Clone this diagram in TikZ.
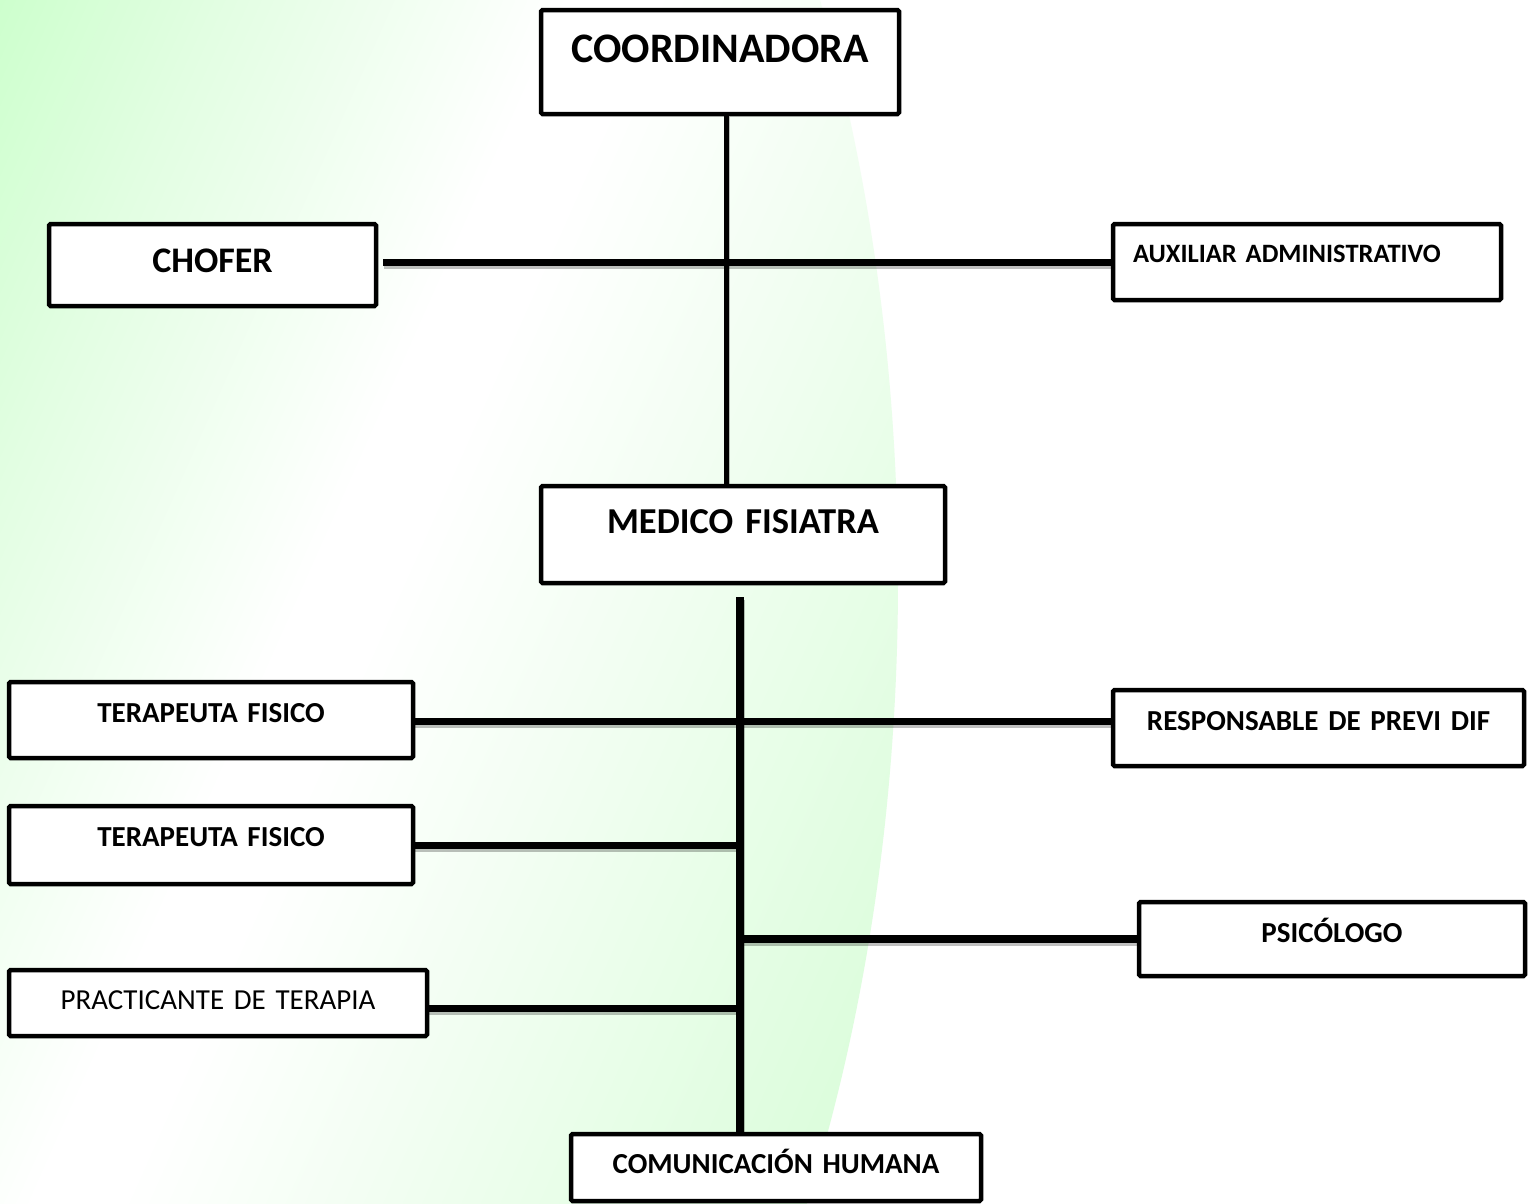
\documentclass[tikz,border=0pt]{standalone}
\usepackage{fontspec}
\setmainfont{Carlito}
\usetikzlibrary{backgrounds}
\definecolor{gA}{RGB}{205,255,205}
\definecolor{gM}{RGB}{226,254,226}
\definecolor{gB}{RGB}{220,253,220}
\pgfdeclarehorizontalshading{bgshade}{100bp}{color(0bp)=(gA); color(25bp)=(gA); color(32.7bp)=(gM); color(45bp)=(white); color(48bp)=(white); color(72bp)=(gB); color(100bp)=(gB)}
\begin{document}
\begin{tikzpicture}[x=1pt,y=-1pt,
  box/.style={draw=black, line width=4.5pt, fill=white, rounded corners=1.5pt, inner sep=0pt, outer sep=0pt,
    anchor=north west, align=center, font=\bfseries\fontsize{29}{29}\selectfont},
  conn/.style={line width=#1, preaction={draw=black, opacity=.25, line width=#1, transform canvas={xshift=1pt,yshift=-3pt}}}]
\useasboundingbox (0,0) rectangle (1534,1203);
\begin{pgfonlayer}{background}
  \fill[white] (0,0) rectangle (1534,1203);
  \begin{scope}
    \clip (154,580) ellipse [x radius=744pt, y radius=1300pt];
    \begin{scope}[transform canvas={rotate=-24}]
      \shade[shading=bgshade] (0,-1500) rectangle (1300,1500);
    \end{scope}
  \end{scope}
\end{pgfonlayer}

\node[box, text width=358pt, text height=52pt, text depth=52pt, font=\bfseries\fontsize{42}{42}\selectfont] (coord) at (541,10) {COORDINADORA};
\node[box, text width=327pt, text height=48pt, text depth=34pt, font=\bfseries\fontsize{36}{36}\selectfont] (chofer) at (49,224) {CHOFER};
\node[box, text width=388pt, text height=38pt, text depth=38pt, align=left, font=\bfseries\fontsize{26.5}{26.5}\selectfont] (aux) at (1113,224) {\hspace*{20pt}AUXILIAR ADMINISTRATIVO};
\node[box, text width=404pt, text height=47pt, text depth=50pt, font=\bfseries\fontsize{36.5}{36.5}\selectfont] (medico) at (541,486) {MEDICO FISIATRA};
\node[box, text width=404pt, text height=40pt, text depth=36pt] (ter1) at (9,682) {TERAPEUTA FISICO};
\node[box, text width=404pt, text height=40pt, text depth=38pt] (ter2) at (9,806) {TERAPEUTA FISICO};
\node[box, text width=418pt, text height=39pt, text depth=27pt, font=\fontsize{29}{29}\selectfont] (prac) at (9,970) {PRACTICANTE DE TERAPIA};
\node[box, text width=411pt, text height=40pt, text depth=36pt] (resp) at (1113,690) {RESPONSABLE DE PREVI DIF};
\node[box, text width=386pt, text height=40pt, text depth=34pt] (psic) at (1139,902) {PSICÓLOGO};
\node[box, text width=410pt, text height=39pt, text depth=28pt] (com) at (571,1134) {COMUNICACIÓN HUMANA};

\coordinate (j1) at (726,262);
\coordinate (j2) at (740,721);
\coordinate (j3) at (740,1008);

\begin{pgfonlayer}{background}
  \draw[conn=5pt] (coord.south -| j1) -- (medico.north -| j1);
  \draw[conn=7pt, shorten <=7pt] (chofer.east |- j1) -- (aux.west |- j1);
  \draw[conn=8pt, shorten <=14pt] (medico.south -| j2) -- (com.north -| j2);
  \draw[conn=7pt] (ter1.east |- j2) -- (resp.west |- j2);
  \draw[conn=7pt] (ter2.east) -- (ter2.east -| j2);
  \draw[conn=8pt] (psic.west) -- (psic.west -| j2);
  \draw[conn=7pt] (prac.east |- j3) -- (j3);
\end{pgfonlayer}
\end{tikzpicture}
\end{document}
